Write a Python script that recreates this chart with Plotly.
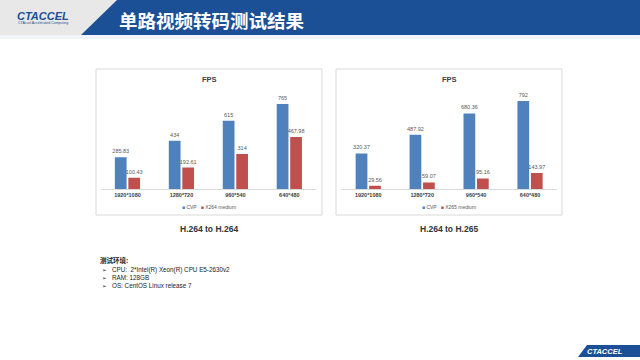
import plotly.graph_objects as go

# ---------------- data ----------------
categories = ["1920*1080", "1280*720", "960*540", "640*480"]
cvp_264 = [285.83, 434, 615, 765]
x264_medium = [100.43, 192.61, 314, 467.98]
cvp_265 = [320.37, 487.92, 680.36, 792]
x265_medium = [29.56, 59.07, 95.16, 143.97]
series_names_1 = ["CVP", "X264 medium"]
series_names_2 = ["CVP", "X265 medium"]
chart_titles = ["FPS", "FPS"]
chart_captions = ["H.264 to H.264", "H.264 to H.265"]
page_title = "单路视频转码测试结果"
env_title = "测试环境:"
env_items = ["CPU:  2*Intel(R) Xeon(R) CPU E5-2630v2", "RAM: 128GB", "OS: CentOS Linux release 7"]

W, H = 640, 360
BLUE = "#4F81BD"
RED = "#C0504D"
HEAD_BLUE = "#1B4F96"
FONT = "Liberation Sans, Noto Sans CJK SC, sans-serif"


def px(x):
    return x / W


def py(y):
    return 1 - y / H


def lbl(v):
    return f"{v:g}"


fig = go.Figure()

pairs = [
    (cvp_264, x264_medium, series_names_1, "x", "y"),
    (cvp_265, x265_medium, series_names_2, "x2", "y2"),
]
for a, b, names, xa, ya in pairs:
    for vals, name, col in [(a, names[0], BLUE), (b, names[1], RED)]:
        fig.add_trace(go.Bar(
            x=categories, y=vals, name=name, marker=dict(color=col, line=dict(width=0)),
            text=[lbl(v) for v in vals], textposition="outside", cliponaxis=False,
            constraintext="none",
            textfont=dict(size=5.5, color="#595959", family=FONT),
            xaxis=xa, yaxis=ya, showlegend=False, hoverinfo="skip",
        ))

axis_common_x = dict(type="category", range=[-0.5, 3.5], showline=True, linecolor="#D9D9D9",
                     linewidth=1, ticks="", showgrid=False, zeroline=False, fixedrange=True,
                     tickfont=dict(size=5.5, color="#404040", family=FONT, weight="bold"))
axis_common_y = dict(range=[0, 900], visible=False, showgrid=False, zeroline=False, fixedrange=True)

fig.update_layout(
    width=W, height=H, margin=dict(l=0, r=0, t=0, b=0),
    paper_bgcolor="white", plot_bgcolor="rgba(0,0,0,0)",
    barmode="group", bargap=0.5, bargroupgap=0.13,
    xaxis=dict(domain=[px(100.5), px(316.3)], anchor="y", **axis_common_x),
    yaxis=dict(domain=[py(189), py(89)], anchor="x", **axis_common_y),
    xaxis2=dict(domain=[px(341.3), px(557)], anchor="y2", **axis_common_x),
    yaxis2=dict(domain=[py(189), py(89)], anchor="x2", **axis_common_y),
    font=dict(family=FONT),
)

shapes = []
# header band
shapes.append(dict(type="rect", xref="paper", yref="paper", x0=0, x1=1, y0=py(35), y1=1,
                   fillcolor="#E8E8E8", line=dict(width=0), layer="below"))
shapes.append(dict(type="rect", xref="paper", yref="paper", x0=0, x1=1, y0=py(39), y1=py(35),
                   fillcolor="#F1F4F8", line=dict(width=0), layer="below"))
shapes.append(dict(type="path", xref="paper", yref="paper",
                   path=f"M {px(117)},{py(0)} L 1,{py(0)} L 1,{py(35)} L {px(81)},{py(35)} Z",
                   fillcolor=HEAD_BLUE, line=dict(width=0), layer="below"))
# footer
shapes.append(dict(type="path", xref="paper", yref="paper",
                   path=f"M {px(587)},{py(345)} L 1,{py(345)} L 1,{py(357)} L {px(578)},{py(357)} Z",
                   fillcolor=HEAD_BLUE, line=dict(width=0), layer="below"))
# chart boxes
for x0, x1 in [(96, 322), (336, 562)]:
    shapes.append(dict(type="rect", xref="paper", yref="paper", x0=px(x0), x1=px(x1),
                       y0=py(215), y1=py(69), fillcolor="white",
                       line=dict(color="#D9D9D9", width=1), layer="below"))
fig.update_layout(shapes=shapes)

ann = []
# page title
ann.append(dict(text=f"<b>{page_title}</b>", x=px(117), y=py(20), xref="paper", yref="paper",
                xanchor="left", yanchor="middle", showarrow=False,
                font=dict(size=18.5, color="white", family="Noto Sans CJK SC")))
# logo
ann.append(dict(text="<b><i>CTACCEL</i></b>", x=px(43), y=py(16), xref="paper", yref="paper",
                xanchor="center", yanchor="middle", showarrow=False,
                font=dict(size=11, color="#1D4E92", family="Liberation Sans")))
ann.append(dict(text="CTAccel Accelerated Computing", x=px(43), y=py(23), xref="paper", yref="paper",
                xanchor="center", yanchor="middle", showarrow=False,
                font=dict(size=3.5, color="#1D4E92", family="Liberation Sans")))
ann.append(dict(text="<b><i>CTACCEL</i></b>", x=px(605), y=py(351), xref="paper", yref="paper",
                xanchor="center", yanchor="middle", showarrow=False,
                font=dict(size=7.5, color="white", family="Liberation Sans")))

# chart titles, legends, captions
for cx, title, cap, names in [(209, chart_titles[0], chart_captions[0], series_names_1),
                              (449, chart_titles[1], chart_captions[1], series_names_2)]:
    ann.append(dict(text=f"<b>{title}</b>", x=px(cx), y=py(79), xref="paper", yref="paper",
                    xanchor="center", yanchor="middle", showarrow=False,
                    font=dict(size=7.5, color="#404040", family=FONT)))
    leg = (f"<span style='color:{BLUE}'>■</span> {names[0]}   "
           f"<span style='color:{RED}'>■</span> {names[1]}")
    ann.append(dict(text=leg, x=px(cx), y=py(206.7), xref="paper", yref="paper",
                    xanchor="center", yanchor="middle", showarrow=False,
                    font=dict(size=5, color="#595959", family=FONT)))
    ann.append(dict(text=f"<b>{cap}</b>", x=px(cx), y=py(228.5), xref="paper", yref="paper",
                    xanchor="center", yanchor="middle", showarrow=False,
                    font=dict(size=8.5, color="#333333", family=FONT)))

# test environment
ann.append(dict(text=f"<b>{env_title}</b>", x=px(98), y=py(260), xref="paper", yref="paper",
                xanchor="left", yanchor="middle", showarrow=False,
                font=dict(size=6.5, color="#222222", family="Noto Sans CJK SC")))
for i, item in enumerate(env_items):
    yy = 269.5 + i * 8
    ann.append(dict(text="➢", x=px(99.5), y=py(yy), xref="paper", yref="paper",
                    xanchor="left", yanchor="middle", showarrow=False,
                    font=dict(size=5.5, color="#222222", family="DejaVu Sans")))
    ann.append(dict(text=item, x=px(109.5), y=py(yy), xref="paper", yref="paper",
                    xanchor="left", yanchor="middle", showarrow=False,
                    font=dict(size=6.3, color="#222222", family="Liberation Sans")))
fig.update_layout(annotations=ann)

fig.write_html("out.html", config={"displayModeBar": False, "staticPlot": True},
               post_script="document.body.style.margin='0';document.body.style.overflow='hidden';")
